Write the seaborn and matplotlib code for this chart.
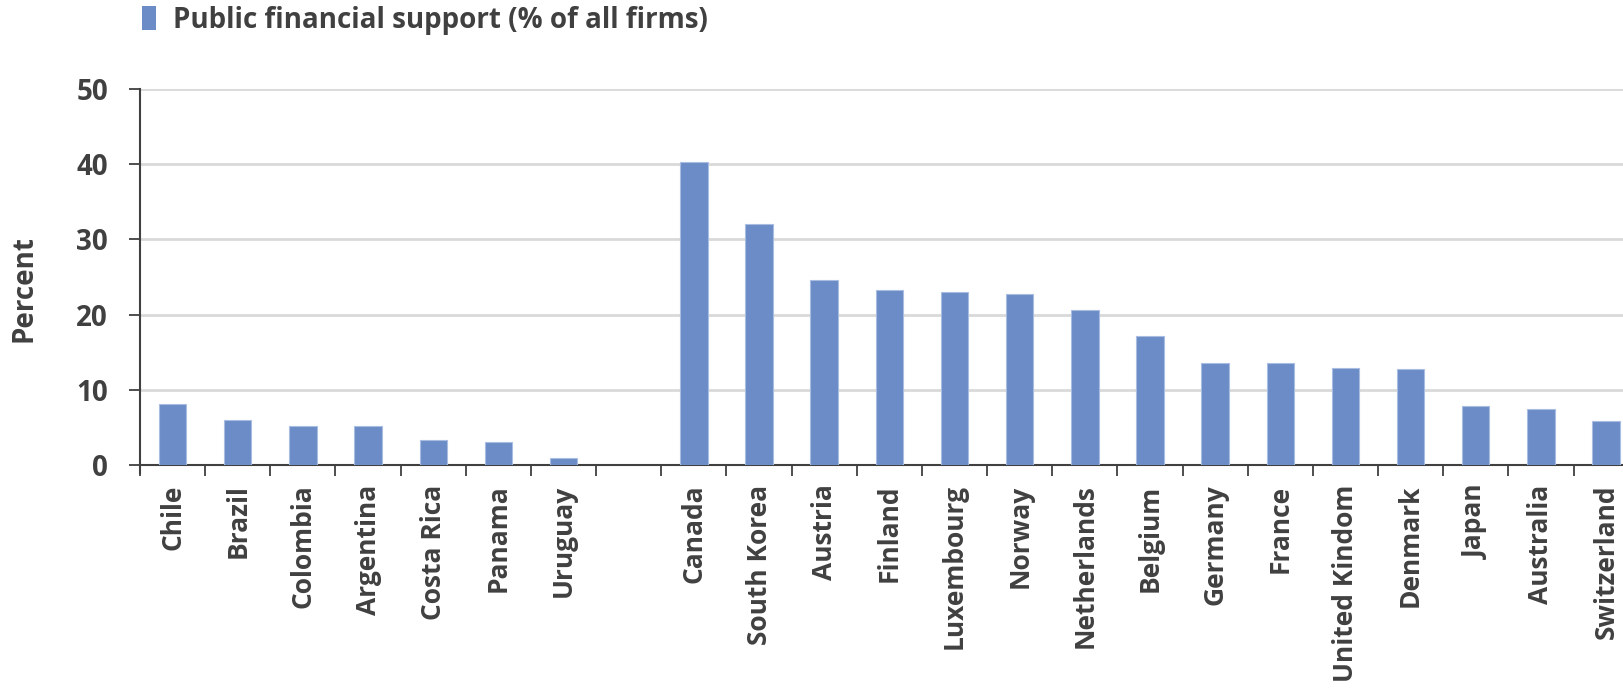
import matplotlib
matplotlib.use("Agg")
import matplotlib.pyplot as plt
import seaborn as sns
import pandas as pd
import numpy as np
from matplotlib.patches import Patch
from matplotlib.ticker import FixedLocator

countries = ["Chile", "Brazil", "Colombia", "Argentina", "Costa Rica", "Panama", "Uruguay", "",
             "Canada", "South Korea", "Austria", "Finland", "Luxembourg", "Norway", "Netherlands",
             "Belgium", "Germany", "France", "United Kindom", "Denmark", "Japan", "Australia",
             "Switzerland"]
support = [8.1, 6.0, 5.2, 5.2, 3.3, 3.1, 0.95, np.nan,
           40.3, 32.1, 24.6, 23.3, 23.0, 22.8, 20.6,
           17.2, 13.5, 13.5, 12.9, 12.7, 7.9, 7.4, 5.8]
y_ticks = [0, 10, 20, 30, 40, 50]
legend_label = "Public financial support (% of all firms)"
y_label = "Percent"

bar_color = "#6b8cc7"
text_color = "#404040"
FAM = ["Open Sans", "DejaVu Sans"]
FS = 20

sns.set_theme(style="white")
plt.rcParams["font.family"] = FAM
plt.rcParams["font.weight"] = "bold"

df = pd.DataFrame({"country": [c if c else " " for c in countries], "value": support})
order = list(df["country"])

fig = plt.figure(figsize=(16.24, 6.88), dpi=100)
W, H = 1624, 688
left_px, zero_px, top_px, cat_w = 140, 465, 89, 65.16
ax_w_px = len(countries) * cat_w
ax = fig.add_axes([left_px / W, 1 - zero_px / H, ax_w_px / W, (zero_px - top_px) / H])

sns.barplot(data=df, x="country", y="value", order=order, color=bar_color, width=0.42,
            edgecolor="#a9bde3", linewidth=0.8, saturation=1, ax=ax, errorbar=None, zorder=3)

ax.set_xlim(-0.5, len(countries) - 0.5)
ax.set_ylim(0, 50)
ax.set_yticks(y_ticks)
ax.set_yticklabels([str(t) for t in y_ticks], fontsize=FS, fontweight="bold", color=text_color)
ax.yaxis.grid(True, color="#d9d9d9", linewidth=2, zorder=0)
ax.xaxis.grid(False)
ax.set_axisbelow(True)

ax.set_xticks(range(len(countries)))
ax.set_xticklabels(countries, rotation=90, fontsize=19, fontweight="bold", color=text_color, va="top")
ax.xaxis.set_minor_locator(FixedLocator(np.arange(-0.5, len(countries), 1.0)))
ax.tick_params(axis="x", which="major", length=0, pad=14)
ax.tick_params(axis="x", which="minor", length=8, width=1.3, color=text_color, direction="out", bottom=True)
ax.tick_params(axis="y", which="major", length=8, width=1.3, color=text_color, direction="out", pad=15, left=True)

for s in ["top", "right"]:
    ax.spines[s].set_visible(False)
for s in ["left", "bottom"]:
    ax.spines[s].set_color(text_color)
    ax.spines[s].set_linewidth(1.5)
ax.spines["left"].set_bounds(-1.0, 50)

ax.set_xlabel("")
ax.set_ylabel(y_label, fontsize=FS, fontweight="bold", color=text_color)
ax.yaxis.set_label_coords((39 - left_px) / ax_w_px, (zero_px - 289) / (zero_px - top_px))

handle = Patch(facecolor=bar_color, edgecolor="none")
fig.legend([handle], [legend_label], loc="upper left", bbox_to_anchor=(142 / W, 1 - 6 / H),
           frameon=False, borderpad=0, borderaxespad=0, handlelength=0.5, handleheight=0.95,
           handletextpad=0.6, prop={"size": FS, "weight": "bold", "family": FAM},
           labelcolor=text_color)

fig.savefig("out.png", dpi=100)
